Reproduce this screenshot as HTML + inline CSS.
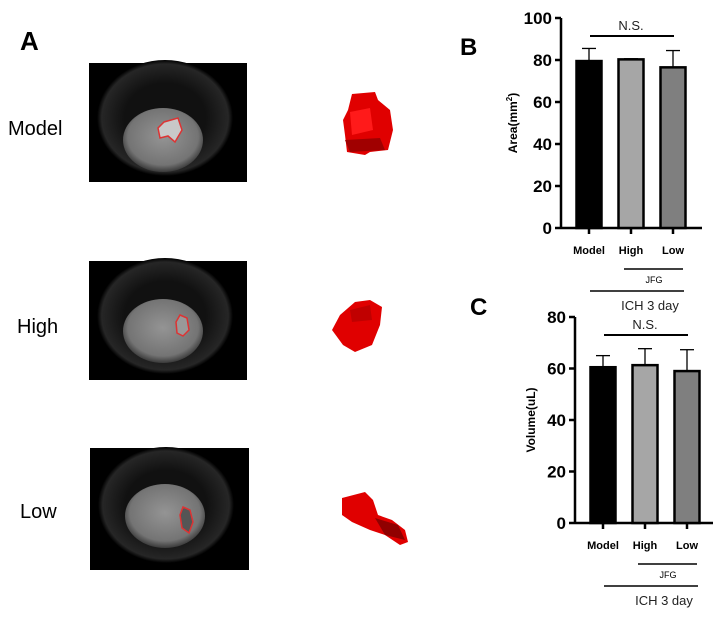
<!DOCTYPE html>
<html><head><meta charset="utf-8"><style>
html,body{margin:0;padding:0;background:#fff;}
svg{display:block;font-family:"Liberation Sans",Arial,sans-serif;}
</style></head><body>
<svg id="fig" width="727" height="623" viewBox="0 0 727 623">
<defs>
<radialGradient id="brain" cx="50%" cy="45%" r="55%"><stop offset="0" stop-color="#949494"/><stop offset="0.8" stop-color="#747474"/><stop offset="1" stop-color="#3a3a3a"/></radialGradient>
<radialGradient id="head" cx="50%" cy="50%" r="50%"><stop offset="0.6" stop-color="#111"/><stop offset="0.93" stop-color="#262626"/><stop offset="1" stop-color="#000"/></radialGradient>
</defs>
<text x="20" y="50" font-size="26" font-weight="bold">A</text>
<text x="460" y="55" font-size="24" font-weight="bold">B</text>
<text x="470" y="315" font-size="24" font-weight="bold">C</text>
<text x="8" y="135" font-size="20">Model</text>
<text x="17" y="333" font-size="20">High</text>
<text x="20" y="518" font-size="20">Low</text>

<g>
<rect x="89" y="63" width="158" height="119" fill="#000"/>
<ellipse cx="165" cy="118" rx="68" ry="58" fill="url(#head)"/>
<ellipse cx="163" cy="140" rx="40" ry="32" fill="url(#brain)"/>
<path d="M164 122 L178 118 L182 130 L175 142 L168 136 L160 138 L158 128 Z" fill="#c8c8c8" stroke="#d33" stroke-width="1.5"/>
</g>
<g>
<rect x="89" y="261" width="158" height="119" fill="#000"/>
<ellipse cx="165" cy="316" rx="68" ry="58" fill="url(#head)"/>
<ellipse cx="163" cy="331" rx="40" ry="32" fill="url(#brain)"/>
<path d="M180 315 L187 318 L189 330 L183 336 L177 333 L176 322 Z" fill="#999" stroke="#d33" stroke-width="1.5"/>
</g>
<g>
<rect x="90" y="448" width="159" height="122" fill="#000"/>
<ellipse cx="166" cy="505" rx="68" ry="58" fill="url(#head)"/>
<ellipse cx="165" cy="516" rx="40" ry="32" fill="url(#brain)"/>
<path d="M183 507 L190 510 L193 522 L189 533 L182 528 L180 515 Z" fill="#555" stroke="#d33" stroke-width="1.5"/>
</g>
<g>
<path d="M352 94 L375 92 L378 100 L390 110 L393 130 L388 150 L370 152 L365 155 L347 152 L345 135 L343 120 L348 110 Z" fill="#e00000"/>
<path d="M350 112 L370 108 L373 130 L352 135 Z" fill="#ff1a1a"/>
<path d="M345 140 L380 138 L385 150 L350 152 Z" fill="#a00000"/>
</g>
<g>
<path d="M340 315 L355 302 L370 300 L382 307 L380 325 L372 345 L355 352 L343 345 L332 330 Z" fill="#e00000"/>
<path d="M350 310 L370 305 L372 320 L352 322 Z" fill="#c00000"/>
</g>
<g>
<path d="M342 498 L365 492 L373 500 L378 515 L392 520 L405 530 L408 542 L400 545 L385 535 L370 530 L352 522 L342 515 Z" fill="#e00000"/>
<path d="M375 518 L398 525 L405 540 L385 535 Z" fill="#900000"/>
</g>

<g id="chartB"></g>
<g id="chartC"></g>
</svg>
<script>
const categories = ["Model","High","Low"];
const areaValues = [79.5, 80.3, 76.5];
const areaErrors = [6, 0.3, 8];
const areaTicks = [0,20,40,60,80,100];
const volumeValues = [60.5, 61.3, 59];
const volumeErrors = [4.5, 6.4, 8.3];
const volumeTicks = [0,20,40,60,80];
const barFills = ["#000000","#a6a6a6","#7f7f7f"];
const NS="http://www.w3.org/2000/svg";
function mk(parent,tag,attrs,text){const e=document.createElementNS(NS,tag);for(const k in attrs)e.setAttribute(k,attrs[k]);if(text!==undefined)e.textContent=text;parent.appendChild(e);return e;}
function draw(g,cfg,vals,errs,ticks){
  const y=v=>cfg.y0-(v-0)/(cfg.max)*(cfg.y0-cfg.yTop);
  const x=i=>cfg.firstX+i*cfg.step;
  mk(g,'line',{x1:cfg.ax,y1:cfg.yTop,x2:cfg.ax,y2:cfg.y0+1,stroke:'#000','stroke-width':2.5});
  mk(g,'line',{x1:cfg.ax,y1:cfg.y0,x2:cfg.axEnd,y2:cfg.y0,stroke:'#000','stroke-width':2.5});
  ticks.forEach(t=>{
    const l=mk(g,'line',{x1:cfg.ax-6,y1:y(t),x2:cfg.ax,y2:y(t),stroke:'#000','stroke-width':2.5});
    
    
    const tx=mk(g,'text',{x:cfg.ax-9,y:y(t)+6,'font-size':17,'font-weight':'bold','text-anchor':'end'},String(t));
    
    
  });
  vals.forEach((v,i)=>{
    const cx=x(i);
    const e=mk(g,'line',{x1:cx,y1:y(v),x2:cx,y2:y(v+errs[i]),stroke:'#000','stroke-width':1.3});
    
    
    const c=mk(g,'line',{x1:cx-7,y1:y(v+errs[i]),x2:cx+7,y2:y(v+errs[i]),stroke:'#000','stroke-width':1.3});
    
    
    const b=mk(g,'rect',{x:cx-12.5,y:y(v),width:25,height:cfg.y0-y(v),fill:barFills[i],stroke:'#000','stroke-width':2.5});
    
    
    const tk=mk(g,'line',{x1:cx,y1:cfg.y0,x2:cx,y2:cfg.y0+6,stroke:'#000','stroke-width':2.5});
    
    
    const lb=mk(g,'text',{x:cx,y:cfg.labY,'font-size':11,'font-weight':'bold','text-anchor':'middle'},categories[i]);
    
    
  });
  const ns=mk(g,'line',{x1:x(0)+1,y1:cfg.nsY,x2:x(2)+1,y2:cfg.nsY,stroke:'#000','stroke-width':2});
  
  
  const nst=mk(g,'text',{x:(x(0)+x(2))/2,y:cfg.nsY-6,'font-size':13,'text-anchor':'middle',fill:'#222'},'N.S.');
  
  
  const jl=mk(g,'line',{x1:x(1)-7,y1:cfg.labY+15,x2:x(2)+10,y2:cfg.labY+15,stroke:'#000','stroke-width':1.5});
  
  
  const jt=mk(g,'text',{x:(x(1)+x(2))/2+2,y:cfg.labY+29,'font-size':9,'text-anchor':'middle'},'JFG');
  
  
  const il=mk(g,'line',{x1:x(0)+1,y1:cfg.labY+37,x2:x(2)+11,y2:cfg.labY+37,stroke:'#000','stroke-width':1.5});
  
  
  const it=mk(g,'text',{x:(x(1)+x(2))/2-2,y:cfg.labY+56,'font-size':13,'text-anchor':'middle',fill:'#222'},'ICH 3 day');
  
  
  const yt=mk(g,'text',{x:0,y:0,'font-size':12,'font-weight':'bold','text-anchor':'middle',transform:`translate(${cfg.ytX},${(cfg.y0+cfg.yTop)/2}) rotate(-90)`});
  
  
  if(cfg.area){yt.innerHTML='Area(mm<tspan dy="-5" font-size="8">2</tspan><tspan dy="5">)</tspan>';}
  else yt.textContent='Volume(uL)';
}
draw(document.getElementById('chartB'),{ax:561,axEnd:702,y0:228,yTop:18,max:100,firstX:589,step:42,labY:254,nsY:36,ytX:517,area:true},areaValues,areaErrors,areaTicks);
draw(document.getElementById('chartC'),{ax:575,axEnd:713,y0:523,yTop:317,max:80,firstX:603,step:42,labY:549,nsY:335,ytX:535,area:false},volumeValues,volumeErrors,volumeTicks);
</script>
</body></html>
